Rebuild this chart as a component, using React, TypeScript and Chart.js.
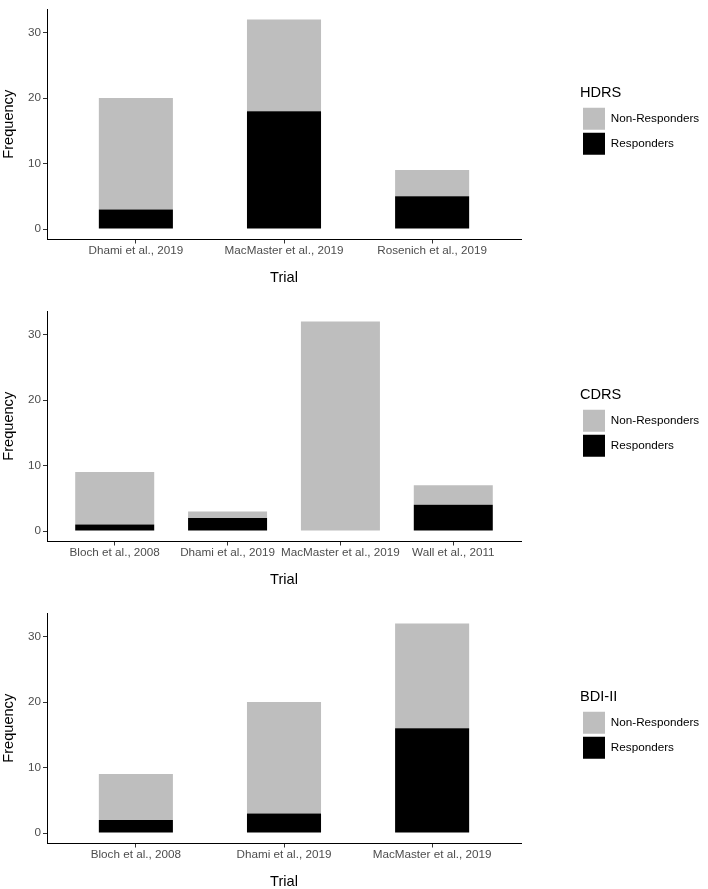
import React, { useEffect, useRef } from 'react';
import { Chart, registerables } from 'chart.js';

Chart.register(...registerables);
Chart.defaults.font.family = '"Liberation Sans", Arial, sans-serif';

// data
const hdrsTrials = ['Dhami et al., 2019', 'MacMaster et al., 2019', 'Rosenich et al., 2019'];
const hdrsResponders = [3, 18, 5];
const hdrsNonResponders = [17, 14, 4];

const cdrsTrials = ['Bloch et al., 2008', 'Dhami et al., 2019', 'MacMaster et al., 2019', 'Wall et al., 2011'];
const cdrsResponders = [1, 2, 0, 4];
const cdrsNonResponders = [8, 1, 32, 3];

const bdiTrials = ['Bloch et al., 2008', 'Dhami et al., 2019', 'MacMaster et al., 2019'];
const bdiResponders = [2, 3, 16];
const bdiNonResponders = [7, 17, 16];

const yTicks = [0, 10, 20, 30];

const GREY = '#BEBEBE';
const TICK_TEXT = '#4D4D4D';

interface PanelProps {
  title: string;
  trials: string[];
  responders: number[];
  nonResponders: number[];
  barWidth: number;
  top: number;
}

const Panel: React.FC<PanelProps> = ({ title, trials, responders, nonResponders, barWidth, top }) => {
  const canvasRef = useRef<HTMLCanvasElement>(null);

  useEffect(() => {
    if (!canvasRef.current) return;
    const chart = new Chart(canvasRef.current, {
      type: 'bar',
      data: {
        datasets: [
          {
            label: 'Responders',
            data: responders.map((v, i) => ({ x: i + 1, y: v })),
            backgroundColor: '#000000',
            borderWidth: 0,
            barPercentage: barWidth,
            categoryPercentage: 1,
          },
          {
            label: 'Non-Responders',
            data: nonResponders.map((v, i) => ({ x: i + 1, y: v })),
            backgroundColor: GREY,
            borderWidth: 0,
            barPercentage: barWidth,
            categoryPercentage: 1,
          },
        ],
      },
      options: {
        responsive: false,
        animation: false,
        layout: { padding: { top: 1, right: 0, bottom: 0, left: 0 } },
        plugins: {
          tooltip: { enabled: false },
          legend: {
            position: 'right',
            align: 'start',
            fullSize: false,
            reverse: true,
            maxWidth: 128,
            title: {
              display: true,
              text: title,
              position: 'start',
              color: '#000000',
              font: { size: 14.6 },
              padding: { top: 76.5, bottom: 1.8 },
            },
            labels: {
              boxWidth: 22,
              boxHeight: 22,
              padding: 3,
              color: '#000000',
              font: { size: 11.7 },
            },
          },
        },
        scales: {
          x: {
            type: 'linear',
            stacked: true,
            offset: false,
            min: 0.4,
            max: trials.length + 0.6,
            afterBuildTicks: (scale: any) => {
              scale.ticks = trials.map((_, i) => ({ value: i + 1 }));
            },
            afterFit: (scale: any) => {
              scale.height = 50.5;
            },
            ticks: {
              autoSkip: false,
              maxRotation: 0,
              padding: 0,
              color: TICK_TEXT,
              font: { size: 11.7 },
              callback: (value: any) => trials[Number(value) - 1] ?? '',
            },
            grid: { offset: false, drawOnChartArea: false, drawTicks: true, tickLength: 4, color: '#333333' },
            border: { display: true, color: '#000000', width: 1 },
            title: {
              display: true,
              text: 'Trial',
              color: '#000000',
              font: { size: 14.6 },
              padding: { top: 0, bottom: 3.2 },
            },
          },
          y: {
            type: 'linear',
            stacked: true,
            min: -1.6,
            max: 33.6,
            afterBuildTicks: (scale: any) => {
              scale.ticks = yTicks.map((v) => ({ value: v }));
            },
            afterFit: (scale: any) => {
              scale.width = 47;
            },
            ticks: {
              padding: 2,
              color: TICK_TEXT,
              font: { size: 11.7 },
            },
            grid: { drawOnChartArea: false, drawTicks: true, tickLength: 4, color: '#333333' },
            border: { display: true, color: '#000000', width: 1 },
            title: {
              display: true,
              text: 'Frequency',
              color: '#000000',
              font: { size: 14.6 },
              padding: { top: 0, bottom: 0 },
            },
          },
          // empty space between the panel and its legend
          gap: {
            type: 'linear',
            position: 'right',
            display: true,
            ticks: { display: false },
            grid: { display: false },
            border: { display: false },
            afterFit: (scale: any) => {
              scale.width = 59;
            },
          },
        },
      },
    });
    return () => chart.destroy();
  }, [title, trials, responders, nonResponders, barWidth]);

  return (
    <canvas
      ref={canvasRef}
      width={708}
      height={290}
      style={{ position: 'absolute', left: 0, top, width: 708, height: 290 }}
    />
  );
};

const App: React.FC = () => {
  return (
    <div
      style={{
        position: 'absolute',
        left: 0,
        top: 0,
        width: 708,
        height: 889,
        overflow: 'hidden',
        background: '#ffffff',
      }}
    >
      <Panel title="HDRS" trials={hdrsTrials} responders={hdrsResponders} nonResponders={hdrsNonResponders} barWidth={0.5} top={0} />
      <Panel title="CDRS" trials={cdrsTrials} responders={cdrsResponders} nonResponders={cdrsNonResponders} barWidth={0.7} top={302} />
      <Panel title="BDI-II" trials={bdiTrials} responders={bdiResponders} nonResponders={bdiNonResponders} barWidth={0.5} top={604} />
    </div>
  );
};

export default App;
